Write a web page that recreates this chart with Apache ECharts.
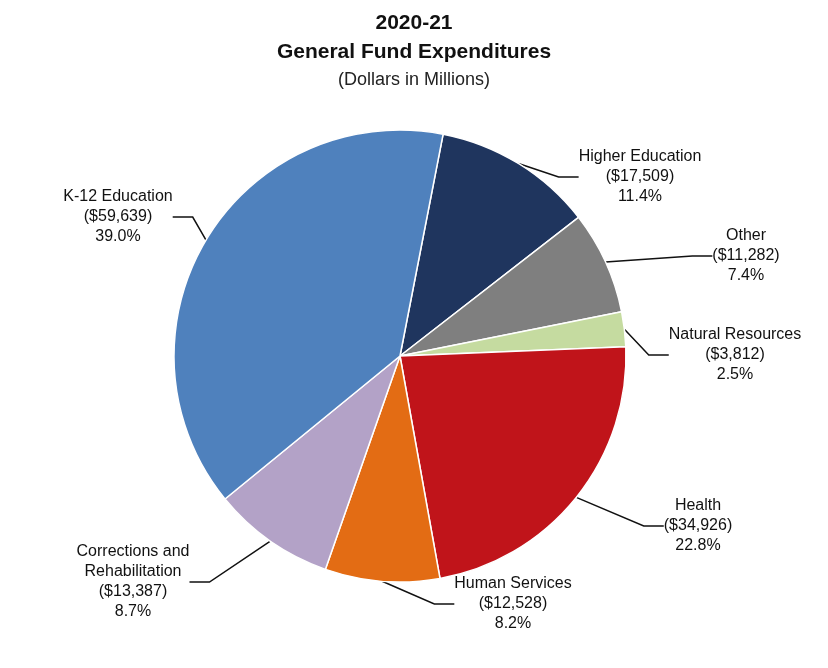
<!DOCTYPE html>
<html>
<head>
<meta charset="utf-8">
<script src="https://cdn.jsdelivr.net/npm/echarts@6/dist/echarts.min.js"></script>
<style>html,body{margin:0;background:#fff}#c{width:828px;height:668px}</style>
</head>
<body>
<div id="c"></div>
<script>
const categories = ['Higher Education', 'Other', 'Natural Resources', 'Health', 'Human Services', 'Corrections and\nRehabilitation', 'K-12 Education'];
const amounts = [17509, 11282, 3812, 34926, 12528, 13387, 59639];
const percents = ['11.4%', '7.4%', '2.5%', '22.8%', '8.2%', '8.7%', '39.0%'];
const colors = ['#1f355e', '#7f7f7f', '#c5dba0', '#c0141a', '#e36c14', '#b3a2c7', '#4f81bd'];

// label anchor spots around the pie
const labelSpots = [
  [640, 177], [746, 256], [735, 355], [698, 526], [513, 604], [133, 582], [118, 217]
];

const chart = echarts.init(document.getElementById('c'));
chart.setOption({
  animation: false,
  title: {
    text: '2020-21\nGeneral Fund Expenditures',
    subtext: '(Dollars in Millions)',
    left: 'center', top: 4, itemGap: 4,
    textStyle: { fontFamily: 'Liberation Sans', fontSize: 21, fontWeight: 'bold', color: '#111', lineHeight: 29 },
    subtextStyle: { fontFamily: 'Liberation Sans', fontSize: 18, color: '#222' }
  },
  series: [{
    type: 'pie',
    center: [400, 356],
    radius: [0, 226],
    startAngle: 79,
    clockwise: true,
    itemStyle: { borderColor: '#fff', borderWidth: 1.5 },
    label: {
      formatter: p => p.name + '\n($' + amounts[p.dataIndex].toLocaleString('en-US') + ')\n' + percents[p.dataIndex],
      fontFamily: 'Liberation Sans', fontSize: 16, color: '#111', lineHeight: 20, align: 'center'
    },
    labelLine: { show: true, length: 15, length2: 20, lineStyle: { color: '#111', width: 1.5 } },
    labelLayout: p => ({ x: labelSpots[p.dataIndex][0], y: labelSpots[p.dataIndex][1], align: 'center', verticalAlign: 'middle' }),
    data: categories.map((n, i) => ({ name: n, value: amounts[i], itemStyle: { color: colors[i] } }))
  }]
});
</script>
</body>
</html>
